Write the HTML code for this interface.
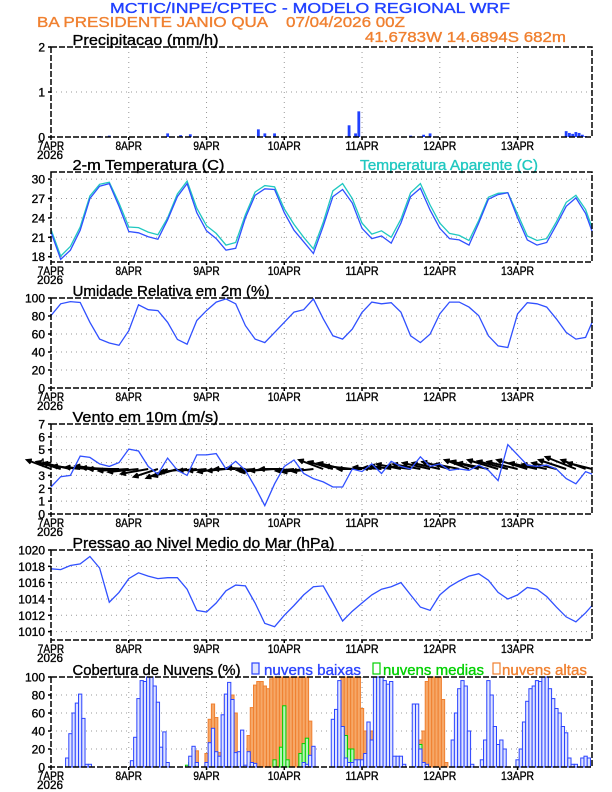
<!DOCTYPE html>
<html><head><meta charset="utf-8"><style>
html,body{margin:0;padding:0;background:#fff}
svg{display:block;font-family:"Liberation Sans",sans-serif}
</style></head><body>
<svg id="chart" width="612" height="792" viewBox="0 0 612 792" xmlns="http://www.w3.org/2000/svg">
<text x="110" y="13" font-size="15" fill="#2040ff" textLength="400" lengthAdjust="spacingAndGlyphs">MCTIC/INPE/CPTEC - MODELO REGIONAL WRF</text>
<text x="37" y="27" font-size="15" fill="#f08030" xml:space="preserve" textLength="368" lengthAdjust="spacingAndGlyphs">BA PRESIDENTE JANIO QUA    07/04/2026 00Z</text>
<text x="365" y="42" font-size="15" fill="#f08030" textLength="201" lengthAdjust="spacingAndGlyphs">41.6783W 14.6894S 682m</text>
<g id="g"></g>
</svg>
<script>
const hrs=[0,3,6,9,12,15,18,21,24,27,30,33,36,39,42,45,48,51,54,57,60,63,66,69,72,75,78,81,84,87,90,93,96,99,102,105,108,111,114,117,120,123,126,129,132,135,138,141,144,147,150,153,156,159,162,165,167];
const dayLabels=["7APR","8APR","9APR","10APR","11APR","12APR","13APR"];
const precipHrs=[15,18,36,40,43,64,66,69,92,94,95,111,115,117,159,160,161,162,163,164,165];
const precipVal=[0.02,0.03,0.08,0.04,0.06,0.17,0.08,0.08,0.26,0.08,0.57,0.03,0.05,0.08,0.13,0.09,0.07,0.11,0.09,0.05,0.02];
const tempC=[21.8,17.6,19.0,22.1,27.0,28.9,29.3,25.8, 21.9,21.7,21.1,20.7,23.7,27.3,29.3,24.8, 22.0,20.8,19.0,19.3,24.0,27.5,28.5,28.4, 24.8,22.1,20.3,18.5,22.7,27.3,28.4,26.3, 22.4,20.8,21.2,20.1,23.2,27.3,28.6,25.2, 22.4,20.8,20.6,19.8,23.2,26.9,27.6,27.9, 24.0,20.6,19.8,20.2,22.9,25.8,27.1,24.7, 21.9];
const appT=[22.2,18.1,19.6,22.6,27.4,29.2,29.5,26.3, 22.6,22.5,21.8,21.4,24.0,27.7,29.7,25.5, 22.8,21.6,19.8,20.2,24.5,28.0,29.0,28.8, 25.4,23.0,21.0,19.2,23.3,28.2,29.3,27.0, 23.2,21.5,22.0,21.0,23.8,27.9,29.3,26.0, 23.2,21.6,21.3,20.5,23.6,27.2,27.8,27.9, 24.6,21.2,20.5,20.8,23.4,26.4,27.5,25.3, 22.5];
const rh=[80.5,93.6,96,95,73,54.3,50,47.5, 63.7,92.5,87,86,73,54,48.7,75, 86,95.5,99,93.6,69.3,54.3,50.5,61.8, 73,84.3,87,99,77,58,54.3,65.5, 84,95.5,93.6,94.8,84.3,58,50.5,59.9, 82.4,95.5,95.5,89.9,80.5,58,46.8,45, 82.4,94.8,93.6,89.9,76.8,61.8,54.3,56.2, 73];
const windSpd=[2.1,2.9,3.0,4.5,4.4,3.9,3.7,4.0, 5.05,4.9,3.7,3.1,4.35,3.4,3.0,4.6, 4.6,4.7,3.5,4.1,3.4,2.1,0.65,2.35, 3.7,4.2,3.15,2.75,2.5,2.1,2.1,3.5, 3.3,3.9,3.15,4.1,3.7,3.5,4.45,3.7, 3.9,3.4,3.5,3.4,3.8,3.4,2.6,5.4, 4.6,3.8,3.7,3.8,3.5,2.75,2.35,3.3, 3.1];
const windU=[-4,-4,-4.5,-4.5,-4,-4,-4.5,-5, -5,-5,-4.5,-4,-3.5,-4,-4.5,-3, -3,-3,-3,-3.5,-3,-3,-4,-4, -4,-3,-3.5,-3.5,-4,-4,-4,-4.5, -4,-3,-3,-3.5,-4,-4,-4.5,-4.5, -4.5,-4.5,-4,-4,-4.5,-5,-5,-5, -5,-5,-4.5,-4,-4,-4.5,-5,-4, -4];
const windV=[1.5,1.2,1,0.5,0.3,0.5,0.2,0, -0.3,-0.5,-0.8,-1.3,-1.5,-1.2,-0.5,-0.3, -0.3,-0.5,-0.3,0,0.2,-0.2,-0.5,-0.3, 0,-0.3,-0.5,-0.4,1.5,1.2,1,0.5, 0,0.3,0.2,0.5,0.8,0.5,0.8,1, 1,1.2,0.8,1.5,1.3,1,1.5,1.3, 1.2,1.5,1.0,0.8,1.0,1.5,2,1.5, 1];
const pres=[1017.7,1017.6,1018.1,1018.3,1019.2,1017.8,1013.6,1014.8, 1016.5,1017.2,1016.8,1016.5,1016.6,1016.6,1015.2,1012.6, 1012.4,1013.5,1015.0,1015.7,1015.6,1013.5,1011.0,1010.6, 1012.0,1013.2,1014.5,1015.5,1015.6,1013.5,1011.3,1012.5, 1013.5,1014.5,1015.2,1015.5,1016.0,1014.5,1013.0,1012.6, 1014.5,1015.5,1016.2,1016.8,1017.1,1016.3,1014.8,1014.0, 1014.5,1015.4,1015.2,1014.3,1013.0,1011.8,1011.2,1012.3, 1013.2];
const lowHrs=[5,6,7,8,9,10,11,12, 25,26,27,28,29,30,31,32,33,34,35,36, 43,44,45,48,49,50,51,52,53,54,55,56,57,58,59,60,61,62,63, 78,79,80,81, 87,88,89,90,91,92,93,94,95,96,97,98,99,100,101,102,103,104,105,106,107,108,109, 112,113,114,115,116, 124,125,126,127,128,129,130, 133,134,135,136,137,138,139,140, 144,145,146,147,148,149,150,151,152,153,154,155,156,157,158,159,160,161,162, 164,165,166];
const lowVal=[10,37,60,71,81,54,3,3, 7,33,76,96,95,100,100,90,72,22,39,5, 12,23,5,5,27,43,17,12,58,81,94,75,16,17,41,2,17,5,4, 5,3,13,23, 53,64,96,45,10,5,5,8,8,8,15,50,30,100,100,100,96,92,95,12,12,12,3, 70,70,20,5,3, 30,60,87,96,90,40,3, 8,30,96,80,45,25,30,20, 8,20,50,73,87,90,96,95,100,100,87,76,65,60,45,38,10,3,3, 10,12,10];
const midHrs=[42,43,69,71,72,73,77,78,79,80,89,90,91,92,93,113,114];
const midVal=[2,5,8,22,68,8,15,26,32,5,28,45,35,20,20,20,25];
const highHrs=[44,45,48,49,50,51,52,53,54,55,56,57,58,59,61,62,63,64,65,66,67,68,69,70,71,72,73,74,75,76,77,78,79,80,81,88,89,90,91,92,93,94,95,96,97,98,99,100,101,114,115,116,117,118,119,120,121,122,155];
const highVal=[5,18,15,53,70,55,16,20,80,47,80,60,15,5,35,66,91,95,95,90,87,98,100,100,100,100,100,100,100,100,100,100,100,51,10,10,60,100,100,100,100,100,100,65,40,30,40,40,10,30,40,95,100,100,100,100,75,5,5];

const NS="http://www.w3.org/2000/svg";
const G=document.getElementById('g');
const X0=51,PXH=3.24,H=90,XR=592;
const xs=h=>X0+h*PXH;
function el(tag,attrs,parent,text){const e=document.createElementNS(NS,tag);for(const k in attrs)e.setAttribute(k,attrs[k]);if(text!==undefined)e.textContent=text;(parent||G).appendChild(e);return e;}
function panel(name,top,ymin,ymax,ticks,title,titleLen){
  const g=el('g',{});
  
  
  const ys=v=>top+H-(v-ymin)/(ymax-ymin)*H;
  for(let d=1;d<7;d++){const l=el('line',{x1:xs(d*24),x2:xs(d*24),y1:top,y2:top+H,stroke:'#999','stroke-width':1,'stroke-dasharray':'1,4'},g);
    }
  ticks.forEach(t=>{const y=ys(t);
    if(y>top+1&&y<top+H-1){const l=el('line',{x1:X0,x2:XR,y1:y,y2:y,stroke:'#999','stroke-width':1,'stroke-dasharray':'1,4'},g);
      }
    const tk=el('line',{x1:X0-3,x2:X0,y1:y,y2:y,stroke:'#000','stroke-width':1.5},g);
    
    const tx=el('text',{x:45,y:y+4.5,'font-size':12,'text-anchor':'end'},g,String(t));
    
  });
  dayLabels.forEach((lab,i)=>{const x=xs(i*24);
    const tk=el('line',{x1:x,x2:x,y1:top+H,y2:top+H+3,stroke:'#000','stroke-width':1.5},g);
    
    const tx=el('text',{x:x,y:top+H+13,'font-size':12,'text-anchor':'middle',textLength:lab.length*6.6,lengthAdjust:'spacingAndGlyphs'},g,lab);
    
  });
  const yr=el('text',{x:37,y:top+H+22,'font-size':12,textLength:26,lengthAdjust:'spacingAndGlyphs'},g,'2026');
  
  const tt=el('text',{x:72.5,y:top-2,'font-size':15,textLength:titleLen,lengthAdjust:'spacingAndGlyphs'},g,title);
  
  return {g,ys,top};
}
function frame(p){const r=el('rect',{x:X0,y:p.top,width:XR-X0,height:H,fill:'none',stroke:'#000','stroke-width':1.5,'stroke-dasharray':'6,2'},p.g);
  }
function line(p,vals,color,name){const d=vals.map((v,i)=>(i?'L':'M')+xs(hrs[i]).toFixed(1)+','+p.ys(v).toFixed(1)).join('');
  const l=el('path',{d:d,fill:'none',stroke:color,'stroke-width':1.3},p.g);
  }

const p1=panel('precipitation',47,0,2,[0,1,2],'Precipitacao (mm/h)',146);
precipHrs.forEach((h,i)=>{const y=p1.ys(precipVal[i]);
  const b=el('rect',{x:xs(h)-1.4,y:y,width:2.8,height:p1.ys(0)-y,fill:'#2040ff'},p1.g);
  });
frame(p1);

const p2=panel('temperature',172,17.18,31.1,[18,21,24,27,30],'2-m Temperatura (C)',152);
const at=el('text',{x:360,y:170,'font-size':15,fill:'#20c8c0',textLength:178,lengthAdjust:'spacingAndGlyphs'},p2.g,'Temperatura Aparente (C)');

line(p2,appT,'#20c8c0','apparent-temp-line');
line(p2,tempC,'#3050ff','temp-line');
frame(p2);

const p3=panel('humidity',298,0,100,[0,20,40,60,80,100],'Umidade Relativa em 2m (%)',197);
line(p3,rh,'#3050ff','humidity-line');
frame(p3);

const p4=panel('wind',424,0,7,[0,1,2,3,4,5,6,7],'Vento em 10m (m/s)',146);
const yb=p4.ys(3.5),K=6;
hrs.forEach((h,i)=>{const x1=xs(h),y1=yb,x2=x1+windU[i]*K,y2=y1-windV[i]*K;
  const ang=Math.atan2(y2-y1,x2-x1),a=5;
  const d=`M${x1},${y1}L${x2},${y2}M${x2-a*Math.cos(ang-0.45)},${y2-a*Math.sin(ang-0.45)}L${x2},${y2}L${x2-a*Math.cos(ang+0.45)},${y2-a*Math.sin(ang+0.45)}`;
  const ar=el('path',{d:d,fill:'none',stroke:'#000','stroke-width':2},p4.g);
  });
line(p4,windSpd,'#3050ff','wind-speed-line');
frame(p4);

const p5=panel('pressure',550,1008.97,1020,[1010,1012,1014,1016,1018,1020],'Pressao ao Nivel Medio do Mar (hPa)',262);
line(p5,pres,'#3050ff','pressure-line');
frame(p5);

const p6=panel('clouds',677,0,100,[0,20,40,60,80,100],'Cobertura de Nuvens (%)',168);
function bars(hs,vals,fill,stroke,name){hs.forEach((h,i)=>{const y=p6.ys(vals[i]);
  const b=el('rect',{x:xs(h)-1.62,y:y,width:PXH,height:p6.ys(0)-y,fill:fill,stroke:stroke,'stroke-width':1},p6.g);
  });}
bars(highHrs,highVal,'#f6a868','#f08030','cloud-high-bar');
bars(midHrs,midVal,'#b8f4b8','#00d000','cloud-mid-bar');
bars(lowHrs,lowVal,'#dfe4ff','#2c44ff','cloud-low-bar');
const leg=[[252,'#2c44ff','#dfe4ff','nuvens baixas',264,97,'legend-low'],[373,'#00d000','#fff','nuvens medias',383,101,'legend-mid'],[493,'#f08030','#fff','nuvens altas',502,85,'legend-high']];
leg.forEach(l=>{const r=el('rect',{x:l[0],y:663,width:7,height:11,fill:l[2],stroke:l[1],'stroke-width':1.2},p6.g);
  
  const t=el('text',{x:l[4],y:675,'font-size':15,fill:l[1],textLength:l[5],lengthAdjust:'spacingAndGlyphs'},p6.g,l[3]);
  });
frame(p6);

document.querySelectorAll('text').forEach(t=>{t.setAttribute('stroke',t.getAttribute('fill')||'#000');t.setAttribute('stroke-width','0.35');});
</script>
</body></html>
